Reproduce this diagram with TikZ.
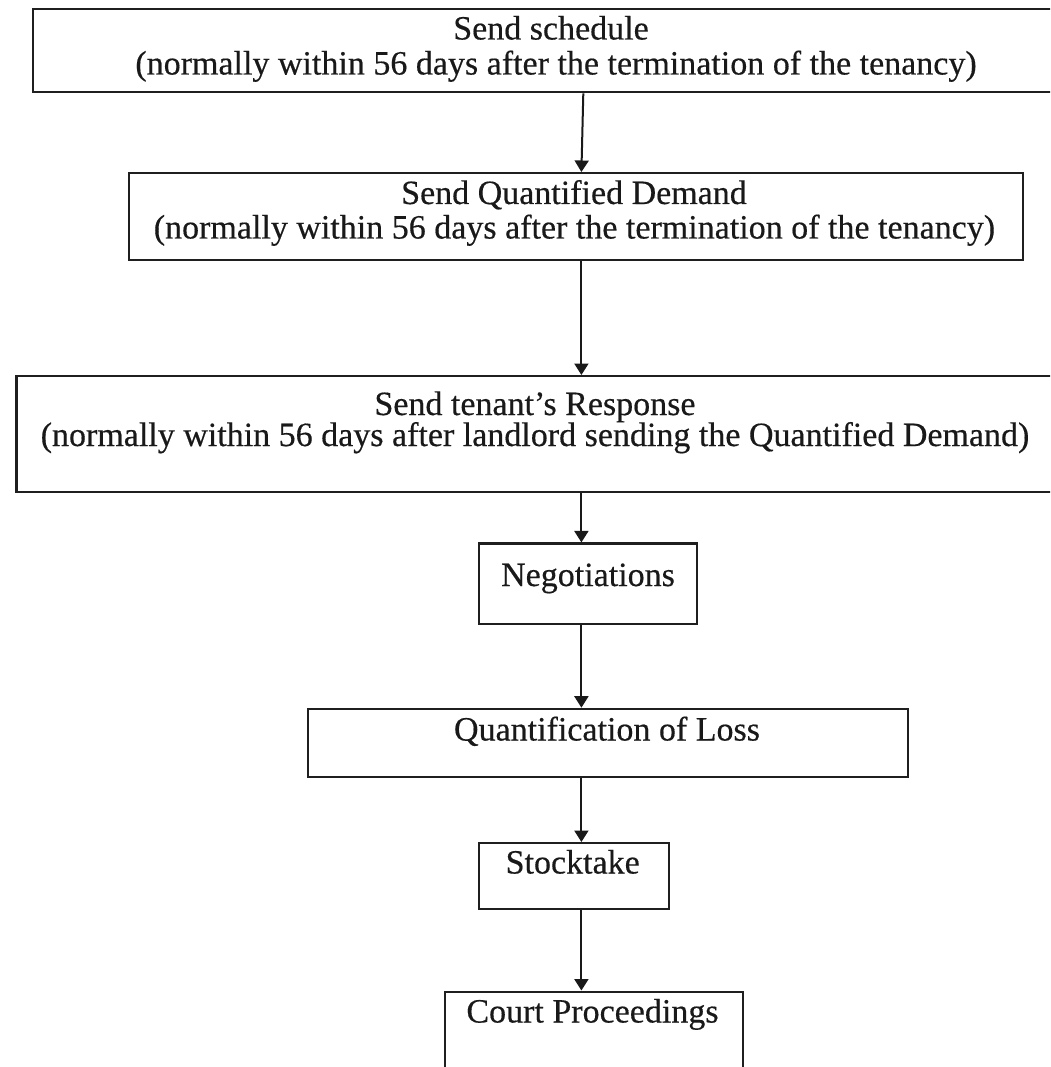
\documentclass[tikz,border=0pt]{standalone}
\usepackage{fontspec}
\setmainfont{Liberation Serif}
\newfontfamily\boxfont{Liberation Serif}[FakeBold=0.4]
\usetikzlibrary{arrows.meta}
\begin{document}
\begin{tikzpicture}[x=1pt,y=-1pt,
  box/.style={draw=black!88, line width=2.1pt, inner sep=0pt, anchor=north west},
  txt/.style={inner sep=0pt, anchor=base, text=black!90, font=\boxfont\fontsize{34}{40}\selectfont},
  arr/.style={draw=black!90, line width=2pt, -{Triangle[length=11.5pt,width=14pt]}}]
\useasboundingbox (0,0) rectangle (1050,1067);
\fill[white] (0,0) rectangle (1050,1067);
\clip (0,0) rectangle (1050,1067);
% boxes
\node[box, minimum width=1028.5pt, minimum height=83pt]   (b1) at (31.5,8.2) {};
\node[box, minimum width=894pt,    minimum height=86.6pt] (b2) at (128,172) {};
\node[box, minimum width=1044.6pt, minimum height=116.3pt] (b3) at (15.4,375) {};
\node[box, minimum width=218pt,    minimum height=80.3pt] (b4) at (478,542.4) {};
\node[box, minimum width=600pt,    minimum height=68.1pt] (b5) at (307,707.7) {};
\node[box, minimum width=190pt,    minimum height=66pt]   (b6) at (478,842) {};
\node[box, minimum width=298pt,    minimum height=100pt]  (b7) at (444.3,990.5) {};
% texts
\node[txt] (t1a) at (551,39.5) {Send schedule};
\node[txt] (t1b) at (556,74.5) {(normally within 56 days after the termination of the tenancy)};
\node[txt] (t2a) at (574,204) {Send Quantified Demand};
\node[txt] (t2b) at (574.4,238.5) {(normally within 56 days after the termination of the tenancy)};
\node[txt] (t3a) at (535,415) {Send tenant’s Response};
\node[txt] (t3b) at (535,446) {(normally within 56 days after landlord sending the Quantified Demand)};
\node[txt] (t4) at (588,586) {Negotiations};
\node[txt] (t5) at (607,740.5) {Quantification of Loss};
\node[txt] (t6) at (572.7,873.5) {Stocktake};
\node[txt] (t7) at (592.5,1022.5) {Court Proceedings};
% connectors
\coordinate (ax) at (581.4,0);
\coordinate (a1) at (583.3,0);
\draw[arr] (a1 |- b1.south) -- (ax |- b2.north);
\draw[arr] (ax |- b2.south) -- (ax |- b3.north);
\draw[arr] (ax |- b3.south) -- (ax |- b4.north);
\draw[arr] (ax |- b4.south) -- (ax |- b5.north);
\draw[arr] (ax |- b5.south) -- (ax |- b6.north);
\draw[arr] (ax |- b6.south) -- (ax |- b7.north);
\end{tikzpicture}
\end{document}
